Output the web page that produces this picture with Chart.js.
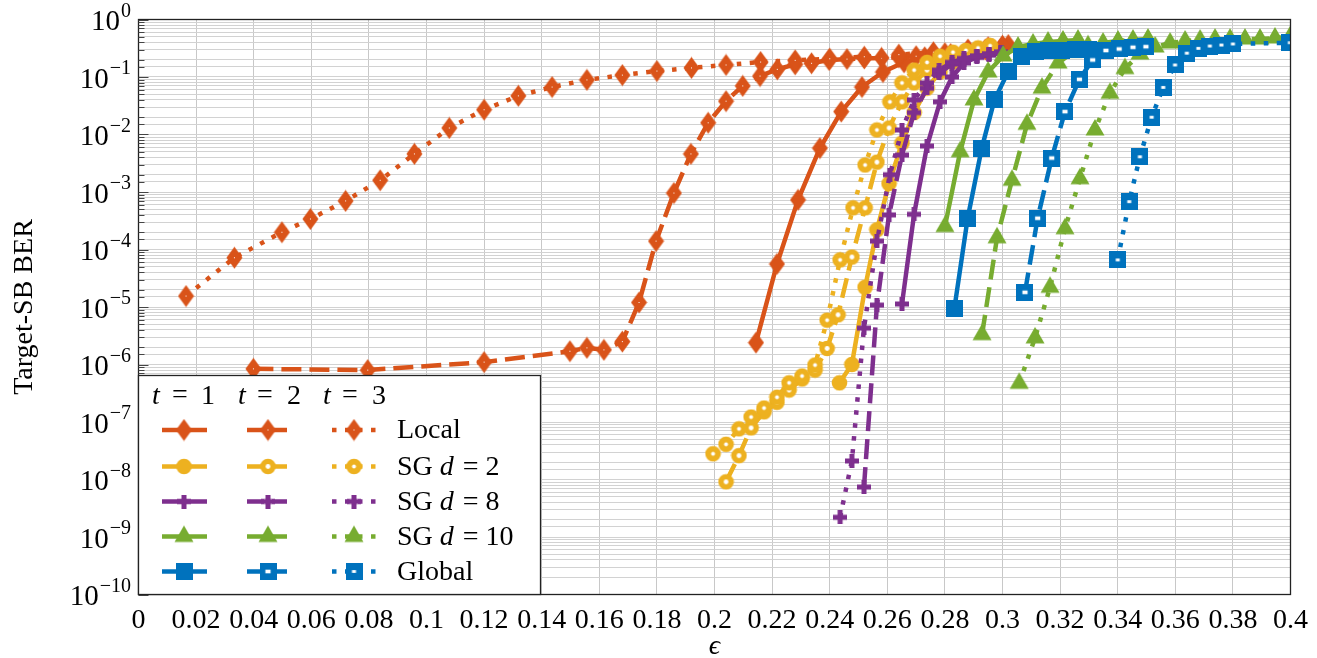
<!DOCTYPE html>
<html>
<head>
<meta charset="utf-8">
<script src="https://cdn.jsdelivr.net/npm/chart.js@4.4.1/dist/chart.umd.min.js"></script>
<style>
  html, body { margin: 0; padding: 0; background: #fff; }
  #wrap { width: 1317px; height: 658px; position: relative; }
</style>
</head>
<body>
<div id="wrap"><canvas id="chart"></canvas></div>
<script>
// x tick labels and y decade exponents
const xTickValues = [0, 0.02, 0.04, 0.06, 0.08, 0.1, 0.12, 0.14, 0.16, 0.18, 0.2, 0.22, 0.24, 0.26, 0.28, 0.3, 0.32, 0.34, 0.36, 0.38, 0.4];
const xTickLabels = ['0', '0.02', '0.04', '0.06', '0.08', '0.1', '0.12', '0.14', '0.16', '0.18', '0.2', '0.22', '0.24', '0.26', '0.28', '0.3', '0.32', '0.34', '0.36', '0.38', '0.4'];
const yTickExponents = [0, -1, -2, -3, -4, -5, -6, -7, -8, -9, -10];

// Local
const epsLocal1 = [0.2144, 0.2217, 0.229, 0.2366, 0.244, 0.2512, 0.2585, 0.2658, 0.273, 0.28, 0.288, 0.295, 0.302];
const berLocal1 = [2.4e-6, 5.6e-5, 7.3e-4, 5.8e-3, 2.5e-2, 6.7e-2, 0.122, 0.18, 0.22, 0.26, 0.29, 0.33, 0.36];
const epsLocal2 = [0.0399, 0.0796, 0.12, 0.1498, 0.1557, 0.1616, 0.168, 0.1738, 0.1797, 0.1859, 0.1918, 0.1978, 0.204, 0.2098, 0.2158, 0.2218, 0.228, 0.2337, 0.2398, 0.246, 0.252, 0.258, 0.264, 0.27, 0.276, 0.282, 0.288, 0.294, 0.30];
const berLocal2 = [8.4e-7, 8.0e-7, 1.1e-6, 1.7e-6, 1.95e-6, 1.8e-6, 2.5e-6, 1.2e-5, 1.4e-4, 9.6e-4, 4.6e-3, 1.6e-2, 3.8e-2, 7.0e-2, 0.104, 0.136, 0.166, 0.173, 0.198, 0.205, 0.21, 0.215, 0.22, 0.23, 0.24, 0.25, 0.27, 0.30, 0.34];
const epsLocal3 = [0.0165, 0.0333, 0.0498, 0.0597, 0.0719, 0.0839, 0.0958, 0.1079, 0.12, 0.1319, 0.1436, 0.1557, 0.168, 0.18, 0.192, 0.204, 0.216, 0.228, 0.24, 0.252, 0.264, 0.276, 0.288, 0.30];
const berLocal3 = [1.55e-5, 7.2e-5, 2.0e-4, 3.4e-4, 7.0e-4, 1.6e-3, 4.6e-3, 1.3e-2, 2.7e-2, 4.7e-2, 6.7e-2, 8.9e-2, 0.108, 0.127, 0.144, 0.162, 0.182, 0.195, 0.208, 0.225, 0.245, 0.27, 0.30, 0.35];

// SG d = 2
const epsSg2t1 = [0.2434, 0.2477, 0.2523, 0.2564, 0.2606, 0.2651, 0.2693, 0.2738, 0.2783, 0.2825, 0.287, 0.2912, 0.2957];
const berSg2t1 = [4.8e-7, 1.0e-6, 2.2e-5, 2.2e-4, 1.4e-3, 7.1e-3, 2.4e-2, 6.4e-2, 0.122, 0.18, 0.23, 0.27, 0.32];
const epsSg2t2 = [0.204, 0.2085, 0.2127, 0.2172, 0.2217, 0.2259, 0.2304, 0.2349, 0.2391, 0.2429, 0.2477, 0.2523, 0.2564, 0.2606, 0.2651, 0.2693, 0.2738, 0.2783, 0.2828, 0.2873, 0.2915, 0.2957];
const berSg2t2 = [9.1e-9, 2.6e-8, 7.9e-8, 1.5e-7, 2.2e-7, 3.6e-7, 5.6e-7, 8.0e-7, 1.9e-6, 7.3e-6, 7.4e-5, 5.3e-4, 3.3e-3, 1.3e-2, 3.7e-2, 7.9e-2, 0.132, 0.18, 0.24, 0.28, 0.31, 0.35];
const epsSg2t3 = [0.1995, 0.204, 0.2085, 0.2127, 0.2172, 0.2217, 0.2259, 0.2304, 0.2349, 0.2391, 0.2436, 0.2481, 0.2523, 0.2564, 0.2609, 0.2651, 0.2693, 0.2738, 0.2783, 0.2828, 0.2873, 0.2915, 0.2957];
const berSg2t3 = [2.8e-8, 4.1e-8, 7.6e-8, 1.22e-7, 1.75e-7, 2.7e-7, 4.8e-7, 6.3e-7, 9.8e-7, 5.9e-6, 6.6e-5, 5.3e-4, 2.95e-3, 1.2e-2, 3.7e-2, 7.9e-2, 0.132, 0.18, 0.23, 0.27, 0.29, 0.32, 0.35];

// SG d = 8
const epsSg8t1 = [0.2651, 0.2693, 0.2738, 0.2783, 0.2825, 0.2866, 0.2911, 0.2953, 0.2995];
const berSg8t1 = [1.13e-5, 4.1e-4, 6.3e-3, 3.7e-2, 0.1, 0.175, 0.22, 0.24, 0.26];
const epsSg8t2 = [0.2519, 0.2564, 0.2606, 0.2651, 0.2693, 0.2738, 0.278, 0.2825, 0.2866, 0.2911, 0.2953, 0.2995];
const berSg8t2 = [7.4e-9, 1.08e-5, 4.0e-4, 4.4e-3, 2.4e-2, 6.4e-2, 0.117, 0.168, 0.2, 0.23, 0.25, 0.27];
const epsSg8t3 = [0.2436, 0.2477, 0.2519, 0.2564, 0.2609, 0.2651, 0.2693, 0.2738, 0.278, 0.2825, 0.2866, 0.2911, 0.2953, 0.2995];
const berSg8t3 = [2.2e-9, 2.1e-8, 4.3e-6, 1.4e-4, 2.0e-3, 1.2e-2, 4.0e-2, 7.9e-2, 0.132, 0.18, 0.21, 0.23, 0.25, 0.27];

// SG d = 10
const epsSg10t1 = [0.28, 0.2853, 0.2901, 0.295, 0.3002, 0.3054, 0.3106, 0.3158, 0.321, 0.3262];
const berSg10t1 = [2.5e-4, 5.0e-3, 4.0e-2, 0.122, 0.232, 0.333, 0.375, 0.406, 0.423, 0.44];
const epsSg10t2 = [0.2929, 0.2981, 0.3033, 0.3085, 0.3137, 0.3193, 0.3245, 0.3297, 0.3349, 0.3401, 0.3453, 0.3505];
const berSg10t2 = [3.3e-6, 1.6e-4, 1.6e-3, 1.5e-2, 6.4e-2, 0.175, 0.27, 0.35, 0.39, 0.423, 0.44, 0.458];
const epsSg10t3 = [0.3058, 0.3113, 0.3165, 0.3217, 0.3269, 0.3321, 0.3373, 0.3425, 0.3477, 0.353, 0.3582, 0.3634, 0.3686, 0.3738, 0.379, 0.3842, 0.3894, 0.3946, 0.3998];
const berSg10t3 = [4.7e-7, 2.9e-6, 2.2e-5, 2.3e-4, 1.7e-3, 1.2e-2, 5.2e-2, 0.14, 0.25, 0.333, 0.39, 0.423, 0.44, 0.458, 0.458, 0.458, 0.458, 0.477, 0.496];

// Global
const epsGlobal1 = [0.2833, 0.2879, 0.2928, 0.2972, 0.302, 0.3067, 0.3113, 0.3158, 0.3206, 0.3252, 0.3297];
const berGlobal1 = [9.5e-6, 3.5e-4, 5.8e-3, 4.0e-2, 0.124, 0.225, 0.275, 0.286, 0.289, 0.297, 0.30];
const epsGlobal2 = [0.3078, 0.3122, 0.3171, 0.3217, 0.3267, 0.3313, 0.3359, 0.3405, 0.3453, 0.3498];
const berGlobal2 = [1.8e-5, 3.5e-4, 3.9e-3, 2.5e-2, 9.1e-2, 0.198, 0.289, 0.307, 0.329, 0.337];
const epsGlobal3 = [0.34, 0.344, 0.3477, 0.3518, 0.3558, 0.3599, 0.364, 0.368, 0.372, 0.376, 0.38, 0.3998];
const berGlobal3 = [6.6e-5, 6.8e-4, 4.1e-3, 2.0e-2, 6.6e-2, 0.162, 0.26, 0.315, 0.346, 0.36, 0.375, 0.395];

const ORANGE = '#D95319', YELLOW = '#EDB120', PURPLE = '#7E2F8E', GREEN = '#77AC30', BLUE = '#0072BD';
const FONT = '"Liberation Serif", "Times New Roman", serif';

// marker images (pgfplots style marks)
function makeMarker(shape, color, hole) {
  const c = document.createElement('canvas');
  const g = c.getContext('2d');
  if (shape === 'diamond') {
    c.width = 17; c.height = 23;
    g.fillStyle = color;
    g.beginPath(); g.moveTo(8.5, 0.5); g.lineTo(16.5, 11.5); g.lineTo(8.5, 22.5); g.lineTo(0.5, 11.5); g.closePath(); g.fill();
    if (hole) { g.fillStyle = '#fff'; g.fillRect(8, 11, 1, 1); }
  } else if (shape === 'circle') {
    c.width = 17; c.height = 17;
    g.fillStyle = color;
    g.beginPath(); g.arc(8.5, 8.5, 7.8, 0, Math.PI * 2); g.fill();
    if (hole) { g.fillStyle = '#fff'; g.beginPath(); g.arc(8.5, 8.5, hole, 0, Math.PI * 2); g.fill(); }
  } else if (shape === 'plus') {
    c.width = 14; c.height = 14;
    g.fillStyle = color;
    g.fillRect(4.5, 0, 5, 14); g.fillRect(0, 4.5, 14, 5);
  } else if (shape === 'triangle') {
    c.width = 20; c.height = 24;
    g.fillStyle = color;
    g.beginPath(); g.moveTo(10, 1); g.lineTo(19.5, 17.5); g.lineTo(0.5, 17.5); g.closePath(); g.fill();
  } else if (shape === 'square') {
    c.width = 17; c.height = 17;
    g.fillStyle = color;
    g.fillRect(0, 0, 17, 17);
    if (hole) { g.fillStyle = '#fff'; g.fillRect(8.5 - hole, 8.5 - hole * 0.7, hole * 2, hole * 1.4); }
  }
  return c;
}

const DASHES = { 1: [], 2: [20, 8], 3: [4.5, 8.5] };

const seriesList = [
  { eps: epsLocal1, ber: berLocal1, color: ORANGE, shape: 'diamond', t: 1 },
  { eps: epsLocal2, ber: berLocal2, color: ORANGE, shape: 'diamond', t: 2 },
  { eps: epsLocal3, ber: berLocal3, color: ORANGE, shape: 'diamond', t: 3 },
  { eps: epsSg2t1, ber: berSg2t1, color: YELLOW, shape: 'circle', t: 1 },
  { eps: epsSg2t2, ber: berSg2t2, color: YELLOW, shape: 'circle', t: 2 },
  { eps: epsSg2t3, ber: berSg2t3, color: YELLOW, shape: 'circle', t: 3 },
  { eps: epsSg8t1, ber: berSg8t1, color: PURPLE, shape: 'plus', t: 1 },
  { eps: epsSg8t2, ber: berSg8t2, color: PURPLE, shape: 'plus', t: 2 },
  { eps: epsSg8t3, ber: berSg8t3, color: PURPLE, shape: 'plus', t: 3 },
  { eps: epsSg10t1, ber: berSg10t1, color: GREEN, shape: 'triangle', t: 1 },
  { eps: epsSg10t2, ber: berSg10t2, color: GREEN, shape: 'triangle', t: 2 },
  { eps: epsSg10t3, ber: berSg10t3, color: GREEN, shape: 'triangle', t: 3 },
  { eps: epsGlobal1, ber: berGlobal1, color: BLUE, shape: 'square', t: 1 },
  { eps: epsGlobal2, ber: berGlobal2, color: BLUE, shape: 'square', t: 2 },
  { eps: epsGlobal3, ber: berGlobal3, color: BLUE, shape: 'square', t: 3 }
];

function holeFor(shape, t) {
  if (t === 1) return 0;
  if (shape === 'circle') return t === 2 ? 2.4 : 2;
  if (shape === 'square') return t === 2 ? 2.6 : 2;
  return 1;
}

seriesList.forEach(s => { s.marker = makeMarker(s.shape, s.color, holeFor(s.shape, s.t)); });

const datasets = seriesList.map((s, i) => ({
  data: s.eps.map((e, k) => ({ x: e, y: s.ber[k] })),
  showLine: true,
  borderColor: s.color,
  backgroundColor: s.color,
  borderWidth: 4.5,
  borderDash: DASHES[s.t],
  borderJoinStyle: 'round',
  pointStyle: s.marker,
  pointRadius: 7,
  tension: 0,
  order: 100 - i
}));

const legendRows = [
  { color: ORANGE, shape: 'diamond', label: [['Local', false]] },
  { color: YELLOW, shape: 'circle', label: [['SG ', false], ['d', true], [' = 2', false]] },
  { color: PURPLE, shape: 'plus', label: [['SG ', false], ['d', true], [' = 8', false]] },
  { color: GREEN, shape: 'triangle', label: [['SG ', false], ['d', true], [' = 10', false]] },
  { color: BLUE, shape: 'square', label: [['Global', false]] }
];

function isDecade(v) {
  const l = Math.log10(v);
  return Math.abs(l - Math.round(l)) < 1e-6;
}

const decor = {
  id: 'decor',
  afterDraw(chart) {
    const { ctx, chartArea: a, scales: { y } } = chart;
    ctx.save();

    // frame
    ctx.strokeStyle = '#222';
    ctx.lineWidth = 1.3;
    ctx.strokeRect(a.left, a.top, a.right - a.left, a.bottom - a.top);

    // inner ticks on left axis
    ctx.strokeStyle = '#444';
    ctx.lineWidth = 1;
    y.ticks.forEach(t => {
      const py = Math.round(y.getPixelForValue(t.value)) + 0.5;
      ctx.beginPath();
      ctx.moveTo(a.left, py);
      ctx.lineTo(a.left + (isDecade(t.value) ? 10 : 6), py);
      ctx.stroke();
    });

    // y tick labels 10^n
    ctx.fillStyle = '#000';
    ctx.textBaseline = 'middle';
    yTickExponents.forEach(n => {
      const py = y.getPixelForValue(Math.pow(10, n));
      const expText = n === 0 ? '0' : '\u2212' + Math.abs(n);
      ctx.font = '20px ' + FONT;
      const ew = ctx.measureText(expText).width;
      const right = 131;
      ctx.textAlign = 'right';
      ctx.fillText(expText, right, py - 8);
      ctx.font = '29px ' + FONT;
      ctx.fillText('10', right - ew - 1, py + 3);
    });

    // axis titles
    ctx.font = '28px ' + FONT;
    ctx.textAlign = 'center';
    ctx.save();
    ctx.translate(25, (a.top + a.bottom) / 2);
    ctx.rotate(-Math.PI / 2);
    ctx.fillText('Target-SB BER', 0, 0);
    ctx.restore();
    ctx.font = 'italic 28px ' + FONT;
    ctx.fillText('\u03F5', (a.left + a.right) / 2, 647);

    // legend
    const lx0 = a.left, ly0 = 375.5, lx1 = 540.5, ly1 = a.bottom;
    ctx.fillStyle = '#fff';
    ctx.fillRect(lx0, ly0, lx1 - lx0, ly1 - ly0);
    ctx.strokeStyle = '#222';
    ctx.lineWidth = 1.3;
    ctx.strokeRect(lx0, ly0, lx1 - lx0, ly1 - ly0);

    ctx.fillStyle = '#000';
    ctx.textBaseline = 'middle';
    const heads = [[152, 180, 201, '1'], [238, 265, 287, '2'], [323, 350, 372, '3']];
    heads.forEach(h => {
      ctx.textAlign = 'left';
      ctx.font = 'italic 28px ' + FONT;
      ctx.fillText('t', h[0], 397);
      ctx.font = '28px ' + FONT;
      ctx.textAlign = 'center';
      ctx.fillText('=', h[1], 396);
      ctx.textAlign = 'left';
      ctx.fillText(h[3], h[2], 397);
    });

    const cols = [[162, 207, 184], [247, 287, 268], [332, 377, 354]];
    const rowY = [430, 466.5, 501.5, 536.5, 571.5];
    legendRows.forEach((r, ri) => {
      const py = rowY[ri];
      cols.forEach((c, ci) => {
        const t = ci + 1;
        ctx.strokeStyle = r.color;
        ctx.lineWidth = 4.5;
        ctx.setLineDash([]);
        if (t === 2) {
          ctx.beginPath(); ctx.moveTo(c[0], py); ctx.lineTo(c[2] - 4, py);
          ctx.moveTo(c[2] + 4, py); ctx.lineTo(c[1], py); ctx.stroke();
        } else {
          ctx.setLineDash(DASHES[t]);
          ctx.beginPath(); ctx.moveTo(c[0], py); ctx.lineTo(c[1], py); ctx.stroke();
          ctx.setLineDash([]);
        }
        const m = makeMarker(r.shape, r.color, holeFor(r.shape, t));
        ctx.drawImage(m, c[2] - m.width / 2, py - m.height / 2);
      });
      ctx.fillStyle = '#000';
      ctx.textAlign = 'left';
      let tx = 397;
      r.label.forEach(part => {
        ctx.font = (part[1] ? 'italic ' : '') + '28px ' + FONT;
        ctx.fillText(part[0], tx, py + 1);
        tx += ctx.measureText(part[0]).width + (part[1] ? 2 : 0);
      });
    });

    ctx.restore();
  }
};

new Chart(document.getElementById('chart'), {
  type: 'scatter',
  data: { datasets },
  options: {
    responsive: true,
    maintainAspectRatio: false,
    animation: false,
    layout: { padding: { left: 0, right: 26.5, top: 19.5, bottom: 0 } },
    plugins: { legend: { display: false }, tooltip: { enabled: false } },
    scales: {
      x: {
        type: 'linear',
        min: 0,
        max: 0.4,
        afterBuildTicks: s => { s.ticks = xTickValues.map(v => ({ value: v })); },
        afterFit: s => { s.height = 63.5; },
        grid: { color: '#c8c8c8', lineWidth: 1, drawTicks: false },
        border: { display: false },
        ticks: {
          autoSkip: false,
          maxRotation: 0,
          padding: 9,
          color: '#000',
          font: { family: FONT, size: 28 },
          callback: (v, i) => xTickLabels[i]
        }
      },
      y: {
        type: 'logarithmic',
        min: 1e-10,
        max: 1,
        afterFit: s => { s.width = 138.5; },
        grid: { color: '#d2d2d2', lineWidth: 1, drawTicks: false },
        border: { display: false },
        ticks: { display: false, autoSkip: false }
      }
    }
  },
  plugins: [decor]
});
</script>
</body>
</html>
